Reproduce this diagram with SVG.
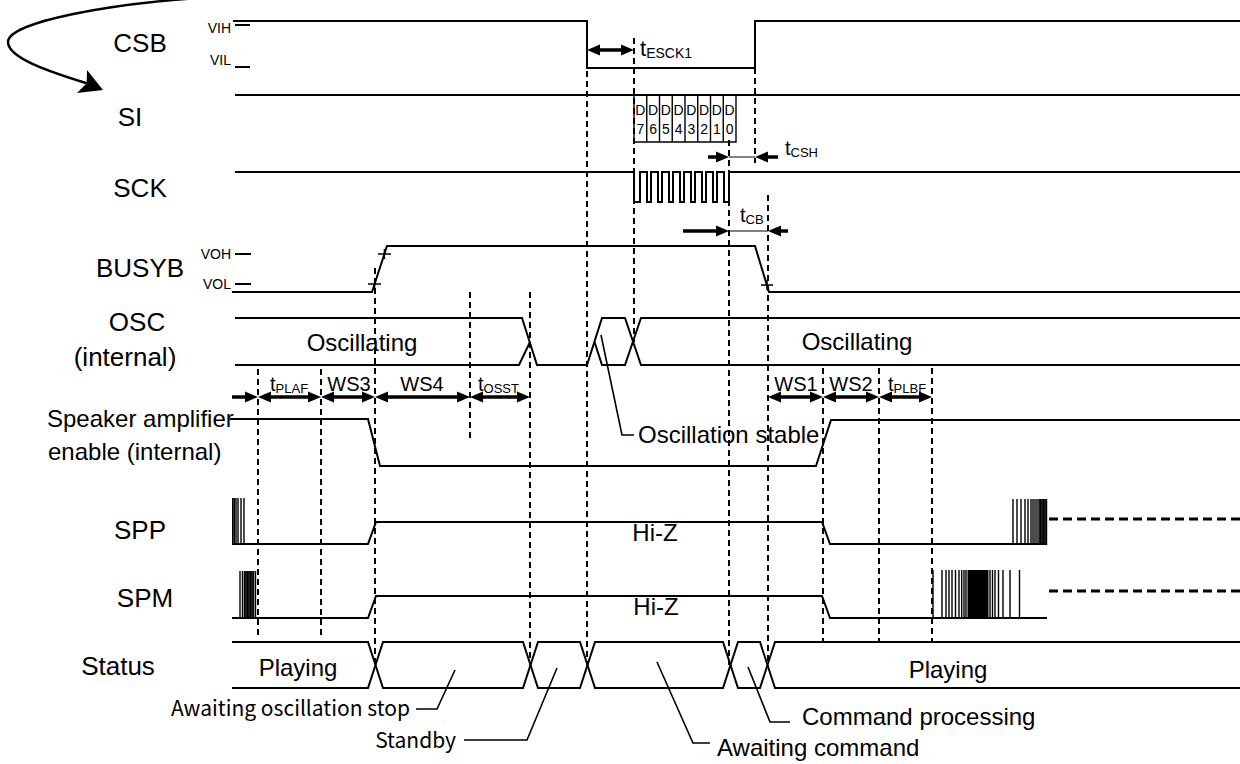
<svg xmlns="http://www.w3.org/2000/svg" width="1240" height="764" viewBox="0 0 1240 764">
<style>
.w{fill:none;stroke:#000;stroke-width:2}
.b{fill:none;stroke:#000;stroke-width:1.4}
.d{fill:none;stroke:#000;stroke-width:2;stroke-dasharray:6 4}
.dh{fill:none;stroke:#000;stroke-width:3;stroke-dasharray:9 5}
.ax{fill:none;stroke:#000;stroke-width:3.5}
.tn{fill:none;stroke:#000;stroke-width:1}
.ld{fill:none;stroke:#000;stroke-width:1.6}
text{font-family:"Liberation Sans",Arial,sans-serif;fill:#000}
.lb{font-size:26px}
.md{font-size:24px}
.sm{font-size:14px}
.tt{font-size:20px}
.sb{font-size:13px}
.jp{font-family:"Noto Sans CJK JP","Liberation Sans",sans-serif;font-size:21px}
</style>
<defs>
<path id="ar" d="M0,0 L-13,-5.5 L-13,5.5 Z"/>
<path id="al" d="M0,0 L13,-5.5 L13,5.5 Z"/>
</defs>
<rect width="1240" height="764" fill="#fff"/>

<g id="loop-arrow">
<path d="M215,-3 C110,3 8,22 8,42 C8,58 50,72 86.7,83.3" fill="none" stroke="#000" stroke-width="2.5"/>
<polygon points="103,90 87,70 86.7,83.3 77,93"/>
</g>

<g id="csb">
<text class="lb" x="140" y="52" text-anchor="middle">CSB</text>
<text class="sm" x="231" y="33" text-anchor="end">VIH</text>
<text class="sm" x="231" y="65" text-anchor="end">VIL</text>
<path class="w" d="M235,25H250M235,67H250"/>
<path class="w" d="M233,21H587V68H755V21H1240"/>
</g>

<g id="si">
<text class="lb" x="130" y="126" text-anchor="middle">SI</text>
<path class="w" d="M235,95H1240"/>
<path class="b" d="M634,95V142H736V95M646.75,95V142M659.5,95V142M672.25,95V142M685,95V142M697.75,95V142M710.5,95V142M723.25,95V142"/>
<g class="sm" text-anchor="middle">
<text x="640.4" y="115">D</text><text x="653.1" y="115">D</text><text x="665.9" y="115">D</text><text x="678.6" y="115">D</text>
<text x="691.4" y="115">D</text><text x="704.1" y="115">D</text><text x="716.9" y="115">D</text><text x="729.6" y="115">D</text>
<text x="640.4" y="134">7</text><text x="653.1" y="134">6</text><text x="665.9" y="134">5</text><text x="678.6" y="134">4</text>
<text x="691.4" y="134">3</text><text x="704.1" y="134">2</text><text x="716.9" y="134">1</text><text x="729.6" y="134">0</text>
</g>
</g>

<g id="sck">
<text class="lb" x="140" y="197" text-anchor="middle">SCK</text>
<path class="w" d="M235,172H634V202H640V172H647V202H651V172H658V202H662V172H669V202H673V172H680V202H684V172H691V202H695V172H702V202H706V172H713V202H717V172H724V202H729V172H1240"/>
</g>

<g id="busyb">
<text class="lb" x="140" y="277" text-anchor="middle">BUSYB</text>
<text class="sm" x="231" y="259" text-anchor="end">VOH</text>
<text class="sm" x="231" y="289" text-anchor="end">VOL</text>
<path class="w" d="M235,254H251M235,284H251"/>
<path class="w" d="M232,292H372L387,246H755L769,292H1240"/>
<path class="b" d="M378,254H391M384.4,249V259M368,284H381M374.6,279V289M761,285H773M767,280V290"/>
</g>

<g id="osc">
<text class="lb" x="137" y="331" text-anchor="middle">OSC</text>
<text class="lb" x="125" y="366" text-anchor="middle">(internal)</text>
<path class="w" d="M235,318H522L537,365H587L602,318H625L641,365H1240"/>
<path class="w" d="M235,365H519L530,342"/>
<path class="w" d="M594.5,342L602,365H625L641,318H1240"/>
<text class="md" x="362" y="351" text-anchor="middle">Oscillating</text>
<text class="md" x="857" y="350" text-anchor="middle">Oscillating</text>
</g>

<g id="spk-en">
<text class="md" x="47" y="427">Speaker amplifier</text>
<text class="md" x="48" y="460">enable (internal)</text>
<path class="w" d="M230,419H368L380,466H816L831,420H1240"/>
</g>

<g id="spp">
<text class="lb" x="140" y="539" text-anchor="middle">SPP</text>
<path class="w" d="M232,544H368L376,522H822L830,544H1047"/>
<path class="b" d="M232.7,498V544M234.3,498V544M236,498V544M238,498V544M241,498V544M244,498V544"/>
<path class="b" d="M1013,499V545M1017,499V545M1021,499V545M1025,499V545M1028,499V545M1031,499V545M1033,499V545M1035,499V545M1037,499V545M1039,499V545M1040.5,499V545M1042,499V545M1043.5,499V545M1045,499V545M1046.5,499V545"/>
<path class="dh" d="M1049,519H1240"/>
<text class="md" x="655" y="541" text-anchor="middle">Hi-Z</text>
</g>

<g id="spm">
<text class="lb" x="145" y="607" text-anchor="middle">SPM</text>
<path class="w" d="M232,618H368L376,596H822L830,618H1047"/>
<path class="b" d="M240,571V618M242.5,571V618M244.5,571V618M246,571V618M247.5,571V618M249,571V618M250.5,571V618M252,571V618M253.5,571V618M255.5,571V618"/>
<path class="b" d="M933,570V618M942,570V618M946,570V618M949,570V618M952,570V618M955.5,570V618M959,570V618M961.7,570V618M964,570V618M966,570V618M990,570V618M992.5,570V618M995,570V618M998.5,570V618M1003,570V618M1010,570V618M1019.5,570V618"/>
<rect x="967.5" y="570" width="21" height="48"/>
<path class="dh" d="M1049,591H1240"/>
<text class="md" x="656" y="615" text-anchor="middle">Hi-Z</text>
</g>

<g id="status">
<text class="lb" x="118" y="675" text-anchor="middle">Status</text>
<path class="w" d="M232,642H368L383,688H523L538,642H580L595,688H723L738,642H760L775,688H1240"/>
<path class="w" d="M232,688H368L383,642H523L538,688H580L595,642H723L738,688H760L775,642H1240"/>
<text class="md" x="298" y="676" text-anchor="middle">Playing</text>
<text class="md" x="948" y="678" text-anchor="middle">Playing</text>
</g>

<g id="connectors">
<path class="d" d="M258,369V636M321,369V636M375,268V665M470,292V438M530,292V665M587,21V665M634,38V342M729,140V665M755,68V163M768,195V665M823,368V642M879,368V642M932,368V642"/>
<path class="ax" d="M232,397H247M269,397H310M332,397H364M386,397H459M481,397H519M779,397H812M834,397H868M890,397H921M598,50H623M708,157H718M766,157H778M683,231H718M779,231H788"/>
<path class="tn" d="M729,157H755M729,231H768"/>
<use href="#ar" x="258" y="397"/>
<use href="#al" x="258" y="397"/><use href="#ar" x="321" y="397"/>
<use href="#al" x="321" y="397"/><use href="#ar" x="375" y="397"/>
<use href="#al" x="375" y="397"/><use href="#ar" x="470" y="397"/>
<use href="#al" x="470" y="397"/><use href="#ar" x="530" y="397"/>
<use href="#al" x="768" y="397"/><use href="#ar" x="823" y="397"/>
<use href="#al" x="823" y="397"/><use href="#ar" x="879" y="397"/>
<use href="#al" x="879" y="397"/><use href="#ar" x="932" y="397"/>
<use href="#al" x="587" y="50"/><use href="#ar" x="634" y="50"/>
<use href="#ar" x="729" y="157"/><use href="#al" x="755" y="157"/>
<use href="#ar" x="729" y="231"/><use href="#al" x="768" y="231"/>
<path class="ld" d="M601,335L622,435H634M455,670L437,709H416M557,668L527,740H464M657,662L693,743H710M748,667L770,722H790"/>
</g>

<g id="timing-labels">
<text class="tt" x="640" y="56" style="font-size:22px">t<tspan class="sb" dy="2" style="font-size:14px">ESCK1</tspan></text>
<text class="tt" x="785" y="155">t<tspan class="sb" dy="2">CSH</tspan></text>
<text class="tt" x="740" y="222">t<tspan class="sb" dy="2">CB</tspan></text>
<text class="tt" x="270" y="391">t<tspan class="sb" dy="2">PLAF</tspan></text>
<text class="tt" x="349" y="391" text-anchor="middle">WS3</text>
<text class="tt" x="422" y="391" text-anchor="middle">WS4</text>
<text class="tt" x="478" y="391">t<tspan class="sb" dy="2">OSST</tspan></text>
<text class="tt" x="796" y="391" text-anchor="middle">WS1</text>
<text class="tt" x="851" y="391" text-anchor="middle">WS2</text>
<text class="tt" x="888" y="391">t<tspan class="sb" dy="2">PLBF</tspan></text>
</g>

<g id="state-labels">
<text class="md" x="638" y="443">Oscillation stable</text>
<text class="jp" x="410" y="716" text-anchor="end">Awaiting oscillation stop</text>
<text class="jp" x="456" y="748" text-anchor="end">Standby</text>
<text class="md" x="717" y="756">Awaiting command</text>
<text class="md" x="802" y="725">Command processing</text>
</g>
</svg>
